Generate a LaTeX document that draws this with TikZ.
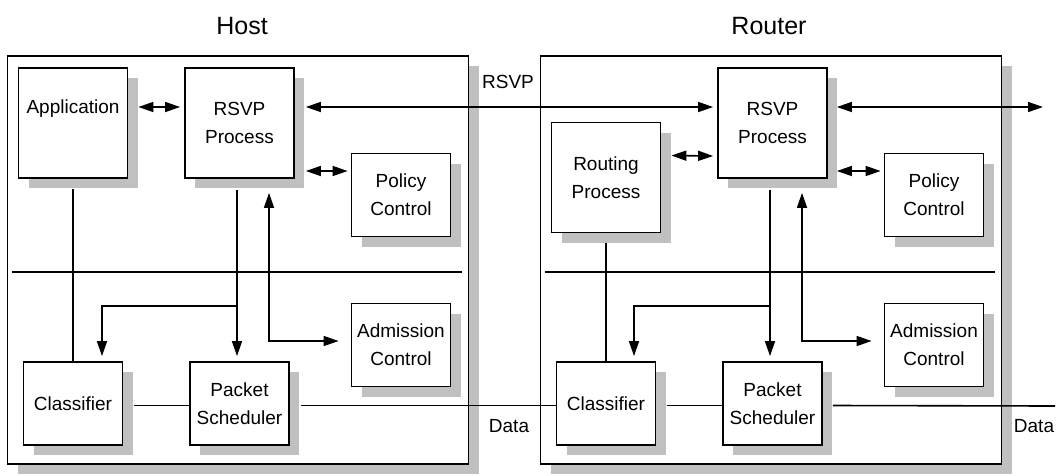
\documentclass[tikz,border=0pt]{standalone}
\usepackage{fontspec}
\setmainfont{Liberation Sans}
\usepackage{xcolor}
\usepackage{tikz}
\usetikzlibrary{arrows.meta,shadows}
\definecolor{ink}{HTML}{000000}
\definecolor{shade}{HTML}{C0C0C0}

\begin{document}
\begin{tikzpicture}[x=1pt,y=-1pt,
    font=\fontsize{19}{28}\selectfont,
    >={Triangle[length=15pt,width=10pt]},
    blk/.style={draw=ink, line width=1.8pt, fill=white, align=center, inner sep=0pt,
      drop shadow={shadow xshift=10pt, shadow yshift=-10pt, fill=shade, draw=none, opacity=1}},
    small/.style={blk, minimum width=99pt, minimum height=83pt},
    tall/.style={blk, minimum width=109pt, minimum height=110pt},
    wire/.style={draw=ink, line width=1.6pt},
    heading/.style={font=\fontsize{25}{30}\selectfont}]
  \useasboundingbox (0,0) rectangle (1061,475);

  \node[heading] (hosttitle) at (242,26) {Host};
  \node[heading] (routertitle) at (769,26) {Router};
  \node[blk, minimum width=461pt, minimum height=408pt] (host) at (238,260) {};
  \node[blk, minimum width=461pt, minimum height=408pt] (router) at (771,260) {};

  \node[blk, minimum width=109pt, text height=45.5pt, text depth=64.5pt] (app) at (73,123) {Application};
  \node[tall] (hrsvp) at (239.5,123) {RSVP\\Process};
  \node[small] (hpol) at (401,195) {Policy\\Control};
  \node[small] (hadm) at (401,345) {Admission\\Control};
  \node[small] (hcls) at (73,403.5) {Classifier};
  \node[small] (hsch) at (239.5,403.5) {Packet\\Scheduler};

  \node[tall] (route) at (606,177.5) {Routing\\Process};
  \node[tall] (rrsvp) at (772.5,123) {RSVP\\Process};
  \node[small] (rpol) at (934,195) {Policy\\Control};
  \node[small] (radm) at (934,345) {Admission\\Control};
  \node[small] (rcls) at (606,403.5) {Classifier};
  \node[small] (rsch) at (772.5,403.5) {Packet\\Scheduler};

  \node (rsvplbl) at (508,82) {RSVP};
  \node (hdata) at (509,426) {Data};
  \node (rdata) at (1034,426) {Data};

  \coordinate (hbr) at (237,306);
  \coordinate (rbr) at (770,306);
  \coordinate (rsvpend) at (1043,107);
  \coordinate (dataend) at (1055,406);

  \draw[wire,<->] ([xshift=10pt,yshift=16pt]app.east) -- ([xshift=-4pt,yshift=16pt]hrsvp.west);
  \draw[wire,<->] ([xshift=11pt,yshift=16pt]hrsvp.east) -- ([xshift=-4pt,yshift=16pt]rrsvp.west);
  \draw[wire,<->] ([xshift=11pt,yshift=-48pt]hrsvp.east) -- ([xshift=-3pt,yshift=24pt]hpol.west);
  \draw[wire] ([yshift=-10pt]app.south) -- (hcls.north);
  \draw[wire,->] ([xshift=-2.5pt,yshift=-11pt]hrsvp.south) -- ([xshift=-2.5pt,yshift=5pt]hsch.north);
  \draw[wire,->] (hbr) -| ([xshift=29pt,yshift=5pt]hcls.north);
  \draw[wire,<->] ([xshift=29.5pt,yshift=-14pt]hrsvp.south) |- ([xshift=-12pt,yshift=4pt]hadm.west);
  \draw[wire] ([xshift=5pt,yshift=-12pt]host.west) -- ([xshift=-7pt,yshift=-12pt]host.east);
  \draw[wire] ([xshift=11pt,yshift=-2pt]hcls.east) -- ([yshift=-2pt]hsch.west);
  \draw[wire] ([xshift=11pt,yshift=-2pt]hsch.east) -- ([yshift=-2pt]rcls.west);

  \draw[wire,<->] ([xshift=10pt,yshift=22pt]route.east) -- ([xshift=-4pt,yshift=-33pt]rrsvp.west);
  \draw[wire,<->] ([xshift=9pt,yshift=16pt]rrsvp.east) -- (rsvpend);
  \draw[wire,<->] ([xshift=9pt,yshift=-48pt]rrsvp.east) -- ([xshift=-3pt,yshift=24pt]rpol.west);
  \draw[wire] ([yshift=-10pt]route.south) -- (rcls.north);
  \draw[wire,->] ([xshift=-2.5pt,yshift=-11pt]rrsvp.south) -- ([xshift=-2.5pt,yshift=5pt]rsch.north);
  \draw[wire,->] (rbr) -| ([xshift=28pt,yshift=5pt]rcls.north);
  \draw[wire,<->] ([xshift=29.5pt,yshift=-14pt]rrsvp.south) |- ([xshift=-12pt,yshift=4pt]radm.west);
  \draw[wire] ([xshift=5pt,yshift=-12pt]router.west) -- ([xshift=-7pt,yshift=-12pt]router.east);
  \draw[wire] ([xshift=11pt,yshift=-2pt]rcls.east) -- ([yshift=-2pt]rsch.west);
  \draw[wire] ([xshift=10pt,yshift=-2pt]rsch.east) -- (dataend);
\end{tikzpicture}
\end{document}
